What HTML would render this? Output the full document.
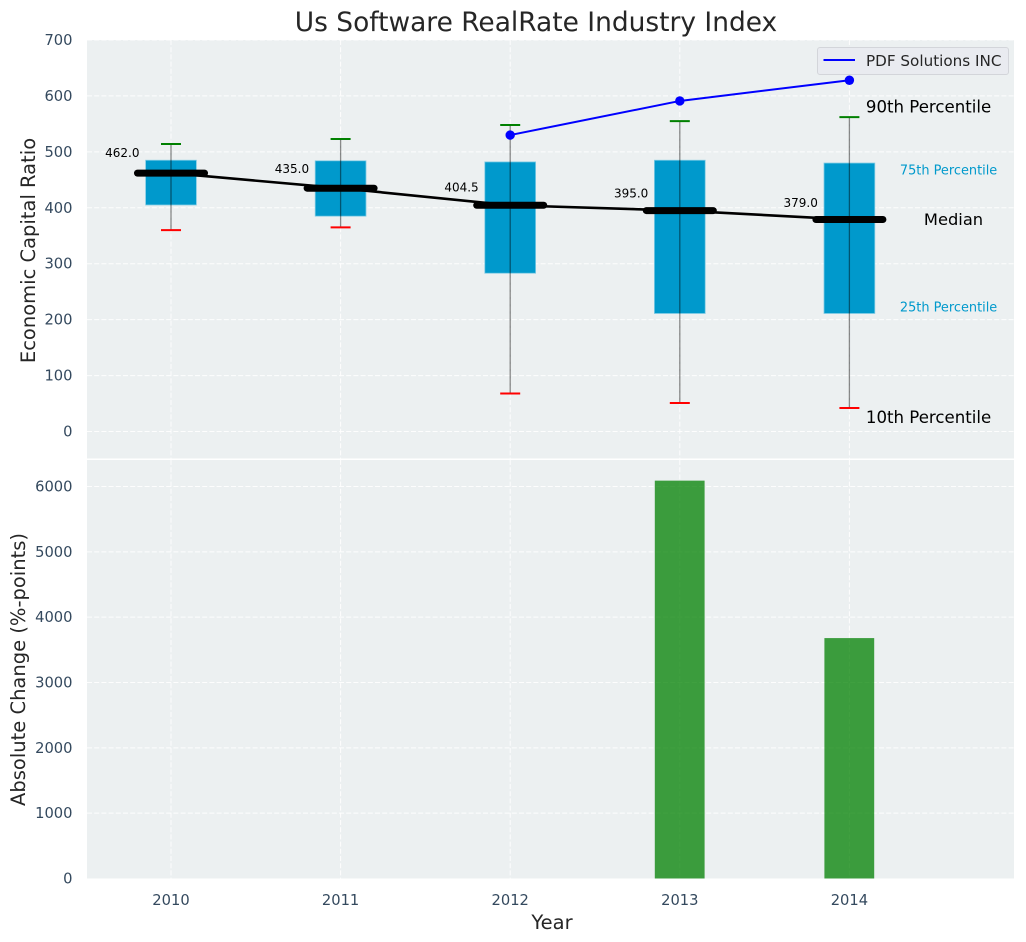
<!DOCTYPE html>
<html lang="en">
<head>
<meta charset="utf-8">
<title>Us Software RealRate Industry Index</title>
<style>
html,body{margin:0;padding:0;background:#fff;width:1026px;height:942px;overflow:hidden}
svg{display:block}
text{font-family:"DejaVu Sans","Liberation Sans",sans-serif}
.tick{font-size:14.7px;fill:#34495e}
.axis-title{font-size:19.5px;fill:#262626}
</style>
</head>
<body>
<svg id="chart" width="1026" height="942" viewBox="0 0 1026 942" xmlns="http://www.w3.org/2000/svg">
  <rect x="87" y="40" width="927" height="418.5" fill="#ecf0f1"/>
  <rect x="87" y="460" width="927" height="418.5" fill="#ecf0f1"/>
  <g id="grid"></g>
  <g id="marks"></g>
  <g id="labels"></g>
  <text x="536" y="31" text-anchor="middle" font-size="26.45" fill="#262626">Us Software RealRate Industry Index</text>
  <text class="axis-title" text-anchor="middle" transform="translate(35,250.5) rotate(-90)">Economic Capital Ratio</text>
  <text class="axis-title" text-anchor="middle" transform="translate(25,669.5) rotate(-90)">Absolute Change (%-points)</text>
  <text class="axis-title" x="552" y="929" text-anchor="middle">Year</text>
  <g>
    <rect x="817.5" y="47.5" width="191" height="27" rx="2.5" fill="#e9ebf0" stroke="#d3d5da" stroke-width="1"/>
    <line x1="823.5" y1="60" x2="855" y2="60" stroke="#0000ff" stroke-width="2"/>
    <text x="866" y="66" font-size="15.2" fill="#262626">PDF Solutions INC</text>
  </g>
</svg>
<script>
const years = [2010, 2011, 2012, 2013, 2014];
const p90 = [514, 523, 548, 555, 562];
const p75 = [485, 484, 482, 485, 480];
const medians = [462, 435, 404.5, 395, 379];
const p25 = [405, 385, 283, 211, 211];
const p10 = [360, 365, 68, 51, 42];
const companyYears = [2012, 2013, 2014];
const companyValues = [530, 591, 628];
const changeYears = [2013, 2014];
const changeValues = [6090, 3680];
const topTicks = [0, 100, 200, 300, 400, 500, 600, 700];
const bottomTicks = [0, 1000, 2000, 3000, 4000, 5000, 6000];
const xTicks = [2010, 2011, 2012, 2013, 2014];

const NS = 'http://www.w3.org/2000/svg';
const gridG = document.getElementById('grid');
const marksG = document.getElementById('marks');
const labelsG = document.getElementById('labels');

function xScale(v) { return 171 + (v - 2010) * 169.6; }
function yTop(v) { return 431.5 - v * 0.5593; }
function yBottom(v) { return 878.5 - v * 0.06533; }

function make(tag, parent, attrs, content) {
  const el = document.createElementNS(NS, tag);
  Object.keys(attrs).forEach(function (k) { el.setAttribute(k, attrs[k]); });
  if (content !== undefined) el.textContent = content;
  parent.appendChild(el);
  return el;
}
const gridStyle = { stroke: '#ffffff', 'stroke-width': 1, 'stroke-dasharray': '5 2.2', opacity: 0.9 };

topTicks.forEach(function (t) {
  const y = yTop(t);
  const line = make('line', gridG, Object.assign({ x1: 87, x2: 1014, y1: y, y2: y }, gridStyle));
  
  
  const label = make('text', labelsG, { class: 'tick', x: 72.5, y: y + 5, 'text-anchor': 'end' }, String(t));
  
  
});

bottomTicks.forEach(function (t) {
  const y = yBottom(t);
  if (t > 0) {
    const line = make('line', gridG, Object.assign({ x1: 87, x2: 1014, y1: y, y2: y }, gridStyle));
    
    
  }
  const label = make('text', labelsG, { class: 'tick', x: 72.5, y: y + 5, 'text-anchor': 'end' }, String(t));
  
  
});

xTicks.forEach(function (t) {
  const x = xScale(t);
  const lineTop = make('line', gridG, Object.assign({ x1: x, x2: x, y1: 40, y2: 458.5 }, gridStyle));
  
  
  const lineBottom = make('line', gridG, Object.assign({ x1: x, x2: x, y1: 460, y2: 878.5 }, gridStyle));
  
  
  const label = make('text', labelsG, { class: 'tick', x: x, y: 905, 'text-anchor': 'middle' }, String(t));
  
  
});

// Boxes
years.forEach(function (yr, i) {
  const x = xScale(yr);
  const box = make('rect', marksG, {
    x: x - 25.4, width: 50.8, y: yTop(p75[i]), height: yTop(p25[i]) - yTop(p75[i]),
    fill: '#0099cc', stroke: '#7fcbe4', 'stroke-width': 0.8
  });
  
  
});

// Whiskers
years.forEach(function (yr, i) {
  const x = xScale(yr);
  const whisker = make('line', marksG, { x1: x, x2: x, y1: yTop(p90[i]), y2: yTop(p10[i]), stroke: '#000000', 'stroke-opacity': 0.45, 'stroke-width': 1.3 });
  
  
  const capHigh = make('line', marksG, { x1: x - 10, x2: x + 10, y1: yTop(p90[i]), y2: yTop(p90[i]), stroke: '#008000', 'stroke-width': 2 });
  
  
  const capLow = make('line', marksG, { x1: x - 10, x2: x + 10, y1: yTop(p10[i]), y2: yTop(p10[i]), stroke: '#ff0000', 'stroke-width': 2 });
  
  
});

// Median trend line
const medianPath = make('polyline', marksG, {
  points: years.map(function (yr, i) { return xScale(yr) + ',' + yTop(medians[i]); }).join(' '),
  fill: 'none', stroke: '#000000', 'stroke-width': 2.6
});



years.forEach(function (yr, i) {
  const x = xScale(yr);
  const y = yTop(medians[i]);
  const bar = make('line', marksG, { x1: x - 33.5, x2: x + 33.5, y1: y, y2: y, stroke: '#000000', 'stroke-width': 7, 'stroke-linecap': 'round' });
  
  
  const label = make('text', labelsG, { x: x - 31.5, y: yTop(medians[i] * 1.08) + 4.5, 'text-anchor': 'end', 'font-size': 12, fill: '#000000' }, medians[i].toFixed(1));
  
  
});

// Company series
const companyPath = make('polyline', marksG, {
  points: companyYears.map(function (yr, i) { return xScale(yr) + ',' + yTop(companyValues[i]); }).join(' '),
  fill: 'none', stroke: '#0000ff', 'stroke-width': 2
});


companyYears.forEach(function (yr, i) {
  const point = make('circle', marksG, { cx: xScale(yr), cy: yTop(companyValues[i]), r: 4.7, fill: '#0000ff' });
  
  
});

// Absolute change bars
changeYears.forEach(function (yr, i) {
  const x = xScale(yr);
  const top = yBottom(changeValues[i]);
  const bar = make('rect', marksG, { x: x - 25, width: 49.8, y: top, height: yBottom(0) - top, fill: '#008000', 'fill-opacity': 0.75 });
  
  
});

// Percentile annotations, placed relative to the last box
const last = years.length - 1;
const lastX = xScale(years[last]);
const note90 = make('text', labelsG, { x: lastX + 16.5, y: yTop(p90[last]) - 4.5, 'font-size': 16.6, fill: '#000' }, '90th Percentile');


const note75 = make('text', labelsG, { x: lastX + 50.5, y: yTop(p75[last]) + 11.5, 'font-size': 12.9, fill: '#0099cc' }, '75th Percentile');


const noteMedian = make('text', labelsG, { x: lastX + 74.5, y: yTop(medians[last]) + 5.5, 'font-size': 16.3, fill: '#000' }, 'Median');


const note25 = make('text', labelsG, { x: lastX + 50.5, y: yTop(p25[last]) - 2, 'font-size': 12.9, fill: '#0099cc' }, '25th Percentile');


const note10 = make('text', labelsG, { x: lastX + 16.5, y: yTop(p10[last]) + 15, 'font-size': 16.6, fill: '#000' }, '10th Percentile');


</script>
</body>
</html>
